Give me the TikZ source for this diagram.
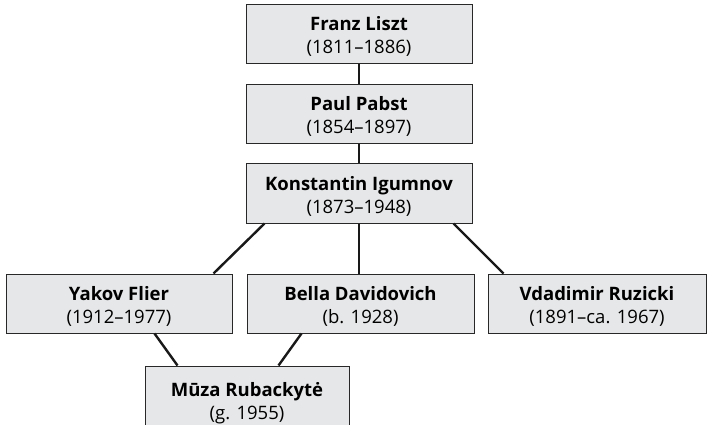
\documentclass[tikz,border=0pt]{standalone}
\usepackage{fontspec}
\setmainfont{Open Sans}
\usetikzlibrary{calc}
\definecolor{boxgray}{RGB}{230,231,232}
\definecolor{edgegray}{RGB}{40,40,40}
% strut that pushes the two text lines a little lower in each box
\newcommand{\namestrut}{\rule{0pt}{19.5pt}}
\begin{document}
\begin{tikzpicture}[x=1pt,y=-1pt,
  person/.style={draw=edgegray, fill=boxgray, line width=1pt,
    minimum height=59pt, inner sep=0pt, align=center,
    font=\fontsize{18.5}{23}\selectfont},
  link/.style={line width=2.4pt, black!90}]
  \useasboundingbox (0,0) rectangle (707,425);

  % teacher chain
  \node[person, minimum width=226pt] (liszt) at (359,34)
    {\namestrut\textbf{Franz Liszt}\\(1811–1886)};
  \node[person, minimum width=226pt] (pabst) at (359,114)
    {\namestrut\textbf{Paul Pabst}\\(1854–1897)};
  \node[person, minimum width=226pt] (igumnov) at (359,193.5)
    {\namestrut\textbf{Konstantin Igumnov}\\(1873–1948)};

  % pupils of Igumnov
  \node[person, minimum width=226pt] (flier) at (119,303.5)
    {\namestrut\textbf{Yakov Flier}\\(1912–1977)};
  \node[person, minimum width=227pt] (davidovich) at (360.5,303.5)
    {\namestrut\textbf{Bella Davidovich}\\(b. 1928)};
  \node[person, minimum width=218pt] (ruzicki) at (597,303.5)
    {\namestrut\textbf{Vdadimir Ruzicki}\\(1891–ca. 1967)};

  % next generation
  \node[person, minimum width=204pt, minimum height=70pt, text depth=0pt] (rubackyte) at (247,401)
    {\textbf{Mūza Rubackytė}\\(g. 1955)};

  % connectors
  \draw[link] (liszt.south) -- (pabst.north);
  \draw[link] (pabst.south) -- (igumnov.north);
  \draw[link] ($(igumnov.south west)+(19,0)$) -- ($(flier.north east)+(-19,0)$);
  \draw[link] (igumnov.south) -- (igumnov.south |- davidovich.north);
  \draw[link] ($(igumnov.south east)+(-19,0)$) -- ($(ruzicki.north west)+(16,0)$);
  \draw[link] ($(flier.south west)+(149,0)$) -- ($(rubackyte.north west)+(33,0)$);
  \draw[link] ($(davidovich.south west)+(55,0)$) -- ($(rubackyte.north west)+(134,0)$);
\end{tikzpicture}
\end{document}
